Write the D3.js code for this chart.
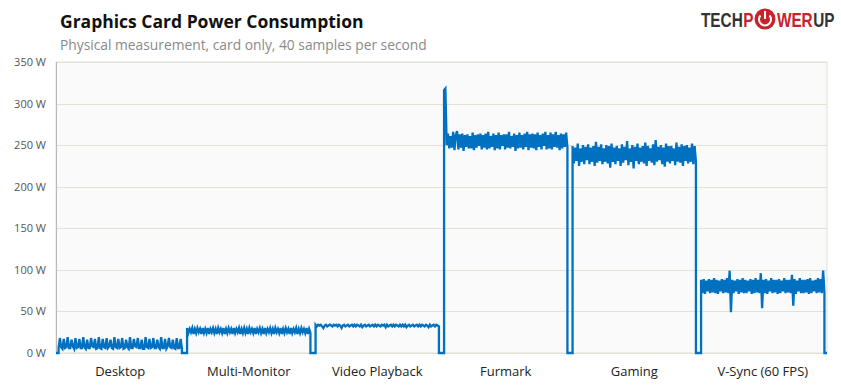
<!DOCTYPE html>
<html>
<head>
<meta charset="utf-8">
<script src="https://cdn.jsdelivr.net/npm/d3@7"></script>
<style>
  body { margin: 0; background: #fff; }
  svg { display: block; font-family: "Open Sans", "Noto Sans", sans-serif; }
</style>
</head>
<body>
<svg id="chart" width="841" height="387"></svg>
<script>
// test sections shown on the x axis
const categories = ['Desktop', 'Multi-Monitor', 'Video Playback', 'Furmark', 'Gaming', 'V-Sync (60 FPS)'];
const yTicks = [0, 50, 100, 150, 200, 250, 300, 350];

// watts (40 samples/s, thinned)
const desktop = [6,18,7, 5,17,6, 7,19,6, 6,16,8, 5,18,6, 7,17,6, 6,19,7, 5,16,6, 6,18,8, 7,17,5, 6,19,6, 5,17,7,
  6,18,6, 8,16,6, 5,19,7, 6,17,6, 7,18,5, 6,16,7, 5,19,6, 6,17,8, 7,18,6, 6,16,5, 5,19,7, 6,17,6, 7,18,6, 6,16,7,
  5,19,6, 6,17,5, 8,18,7, 6,16,6, 5,18,6, 6,17,5];
const multiMonitor = [30,24,29,25,30,23,29,24,30,25,29,23, 30,24,29,24,30,23,29,25,30,24,29,23,
  30,25,29,24,30,23,29,24,30,25,29,23, 30,24,29,25,30,23,29,24,30,24,29,23,
  30,25,29,24,30,23,29,25,30,24,29,23, 30,24,29,25,30,24,29,23,30,25,29,24,
  30,23,29,24,30,25,29,23,30,24,29,25, 30,23,29,24,30,25,29,24,30,23,29,24];
const videoPlayback = [34,32,34,33,34,32,30,33,34,32,33,34, 33,32,34,33,34,32,34,33,30,33,34,32,
  33,34,32,33,34,32,34,32,34,33,32,34, 31,33,34,32,33,34,32,33,34,32,34,32,
  34,33,32,34,33,34,31,34,32,33,34,32, 34,32,34,33,32,34,32,34,32,34,31,33,
  34,32,33,34,32,33,34,32,34,32,34,33, 32,34,33,31,34,32,33,34,32,34,33,32];
const furmark = [316,318,250,264,246,261,247,266,244,262,267,245,263,247,264,243,262,248,263,246,
  261,246,265,244,262,247,263,249,264,245,262,247,264,245,266,246,261,248,264,244,
  262,246,265,245,262,249,263,245,263,247,266,246,261,248,264,243,262,246,265,247,
  262,245,264,248,266,244,263,247,264,246,263,244,265,248,262,245,264,249,266,245,
  262,246,265,245,263,248,266,247,262,244,264,246,263,248,265,247];
const gaming = [249,228,247,231,252,225,246,230,250,227,248,232,251,227,247,230,249,225,254,229,
  248,231,251,227,246,230,250,228,249,223,252,230,247,227,249,231,246,225,251,229,
  248,232,255,226,246,230,250,222,248,231,252,227,247,230,249,228,253,225,249,231,
  246,229,251,226,256,230,248,232,250,227,247,224,252,230,249,228,249,231,246,226,
  253,230,248,229,251,225,249,231,250,228,247,230,252,227,249,230];
const vsync = [88,72,89,71,87,74,89,72,88,73,90,72,88,71,87,74,89,72,88,73,90,72,99,49,
  88,72,87,74,89,71,88,73,90,72,88,72,87,74,89,71,88,72,90,73,88,72,96,54,
  88,72,89,71,87,74,90,72,88,73,88,71,89,72,87,74,90,72,88,73,88,72,94,57,
  89,71,87,74,90,72,88,72,88,73,89,71,90,72,87,74,88,72,90,73,89,72,99,72];
const sections = [desktop, multiMonitor, videoPlayback, furmark, gaming, vsync];

const svg = d3.select('#chart');
const margin = { left: 56, right: 14, top: 62, bottom: 34 };
const W = 841, H = 387;
const innerW = W - margin.left - margin.right;
const innerH = H - margin.top - margin.bottom;

const g = svg.append('g').attr('transform', `translate(${margin.left},${margin.top})`);

const x = d3.scaleBand().domain(categories).range([0, innerW]).paddingInner(0.04).paddingOuter(0.02);
const y = d3.scaleLinear().domain([0, 350]).range([innerH, 0]);

// plot background
g.append('rect')
  .attr('width', innerW).attr('height', innerH)
  .attr('fill', '#fafafa')
  .attr('stroke', '#e4dfcf');

// gridlines
g.selectAll('.grid')
  .data(yTicks)
  .enter().append('line')
  .attr('x1', 0).attr('x2', innerW)
  .attr('y1', d => Math.round(y(d)) + 0.5).attr('y2', d => Math.round(y(d)) + 0.5)
  .attr('stroke', '#e4e1d5');

// left axis line
g.append('line')
  .attr('x1', 0.5).attr('x2', 0.5).attr('y1', 0).attr('y2', innerH)
  .attr('stroke', '#b8b8b8');

// y labels
g.selectAll('.ylab')
  .data(yTicks)
  .enter().append('text')
  .attr('x', -10)
  .attr('y', d => y(d) + 4)
  .attr('text-anchor', 'end')
  .attr('font-size', 11)
  .attr('fill', '#555')
  .text(d => d + ' W');

// x labels
g.selectAll('.xlab')
  .data(categories)
  .enter().append('text')
  .attr('x', d => x(d) + x.bandwidth() / 2)
  .attr('y', innerH + 23)
  .attr('text-anchor', 'middle')
  .attr('font-size', 13)
  .attr('fill', '#222')
  .text(d => d);

// build the trace: each section sits in its band, dropping to 0 between sections
const points = [[0, 0]];
sections.forEach((vals, i) => {
  const x0 = x(categories[i]);
  const xs = d3.scaleLinear().domain([0, vals.length - 1]).range([x0, x0 + x.bandwidth()]);
  points.push([x0, 0]);
  vals.forEach((v, j) => points.push([xs(j), v]));
  points.push([x0 + x.bandwidth(), 0]);
});
points.push([innerW, 0]);

const line = d3.line().x(d => d[0]).y(d => y(d[1]));
g.append('path')
  .datum(points)
  .attr('d', line)
  .attr('fill', 'none')
  .attr('stroke', '#0070c0')
  .attr('stroke-width', 2.3)
  .attr('stroke-linejoin', 'miter');

// titles
svg.append('text')
  .attr('x', 60).attr('y', 28)
  .attr('font-size', 17.5).attr('font-weight', 'bold').attr('fill', '#111')
  .text('Graphics Card Power Consumption');
svg.append('text')
  .attr('x', 60).attr('y', 50)
  .attr('font-size', 13.8).attr('fill', '#8a8a8a')
  .text('Physical measurement, card only, 40 samples per second');

// logo: condensed wordmark with a power-button "O"
const logo = svg.append('g');
const word = logo.append('g').attr('transform', 'translate(701,27) scale(0.767,1)')
  .attr('font-family', '"Liberation Sans", Arial, sans-serif')
  .attr('font-weight', 'bold').attr('font-size', 20);
word.append('text').attr('x', 0).attr('fill', '#333').text('TECH');
word.append('text').attr('x', 55).attr('fill', '#c8222a').text('P');
word.append('text').attr('x', 99).attr('fill', '#c8222a').text('WER');
word.append('text').attr('x', 146.3).attr('fill', '#333').text('UP');
logo.append('circle').attr('cx', 765).attr('cy', 19).attr('r', 10.5).attr('fill', '#c8222a');
logo.append('path').attr('d', 'M760.5,15.5 A6,6 0 1 0 769.5,15.5').attr('fill', 'none')
  .attr('stroke', '#fff').attr('stroke-width', 2);
logo.append('line').attr('x1', 765).attr('x2', 765).attr('y1', 11).attr('y2', 19)
  .attr('stroke', '#fff').attr('stroke-width', 2);
</script>
</body>
</html>
